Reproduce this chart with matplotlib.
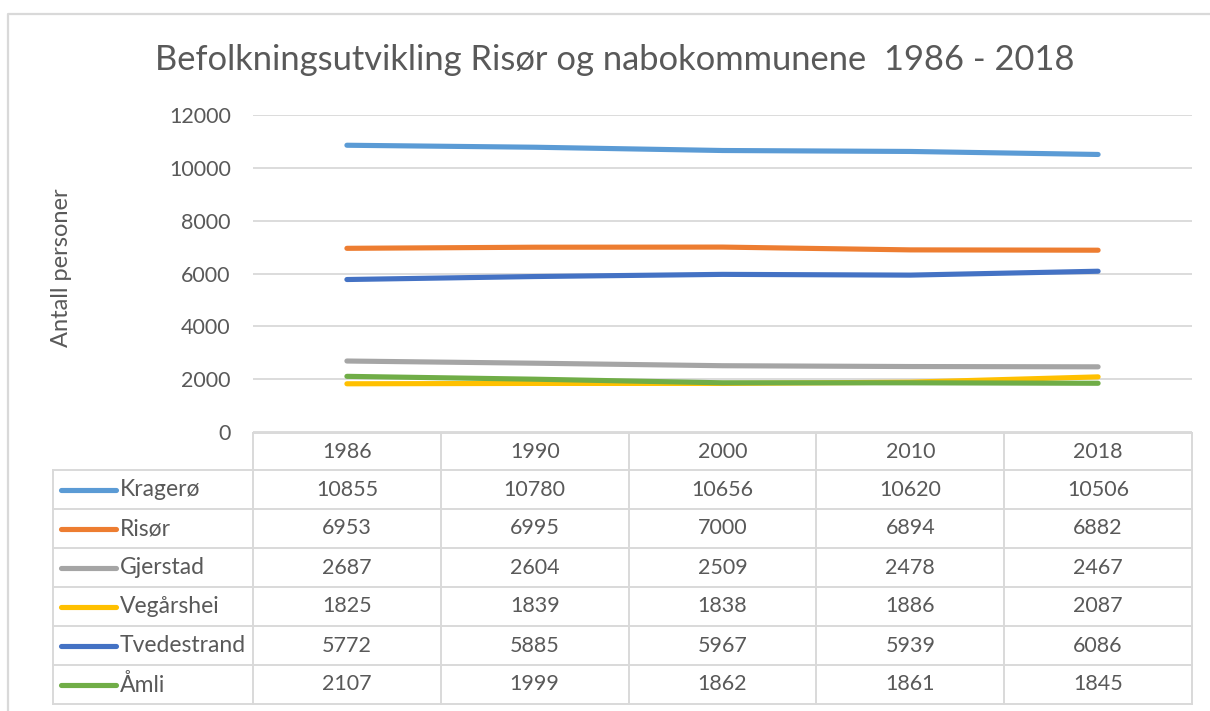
import matplotlib
matplotlib.use("Agg")
import matplotlib.pyplot as plt
from matplotlib.lines import Line2D

plt.rcParams['font.family'] = ['Lato', 'DejaVu Sans']

years = ["1986", "1990", "2000", "2010", "2018"]
names = ["Kragerø", "Risør", "Gjerstad", "Vegårshei", "Tvedestrand", "Åmli"]
kragero = [10855, 10780, 10656, 10620, 10506]
risor = [6953, 6995, 7000, 6894, 6882]
gjerstad = [2687, 2604, 2509, 2478, 2467]
vegarshei = [1825, 1839, 1838, 1886, 2087]
tvedestrand = [5772, 5885, 5967, 5939, 6086]
amli = [2107, 1999, 1862, 1861, 1845]
series = [kragero, risor, gjerstad, vegarshei, tvedestrand, amli]
colors = ["#5B9BD5", "#ED7D31", "#A5A5A5", "#FFC000", "#4472C4", "#70AD47"]
yticks = [0, 2000, 4000, 6000, 8000, 10000, 12000]
title = "Befolkningsutvikling Risør og nabokommunene  1986 - 2018"
ylabel = "Antall personer"

W, H = 1210, 711
fig = plt.figure(figsize=(W / 100, H / 100), dpi=100)
txt = "#595959"
grid = "#D9D9D9"

# background overlay axes in pixel coordinates
bg = fig.add_axes([0, 0, 1, 1])
bg.set_xlim(0, W)
bg.set_ylim(H, 0)
bg.axis("off")

# outer chart border (extends beyond right/bottom)
bg.add_line(Line2D([8, 8, W + 5], [H + 5, 14, 14], color="#D9D9D9", lw=1.6))

# plot axes
x0, x1 = 253, 1192
ytop, ybot = 115, 432
ax = fig.add_axes([x0 / W, 1 - ybot / H, (x1 - x0) / W, (ybot - ytop) / H])
ax.set_xlim(-0.5, len(years) - 0.5)
ax.set_ylim(0, 12000)
ax.set_yticks(yticks)
ax.set_yticklabels([str(t) for t in yticks], color=txt, fontsize=15.5)
ax.tick_params(axis="y", length=0, pad=16)
ax.set_xticks([])
for s in ax.spines.values():
    s.set_visible(False)
ax.grid(axis="y", color=grid, lw=1.3)
ax.set_axisbelow(True)
ax.patch.set_alpha(0)
xs = list(range(len(years)))
for vals, c in zip(series, colors):
    ax.plot(xs, vals, color=c, lw=3.7, solid_capstyle="round", solid_joinstyle="round")

fig.text(615 / W, 1 - 60 / H, title, ha="center", va="center", fontsize=24.8, color=txt)
fig.text(62 / W, 1 - 268 / H, ylabel, ha="center", va="center", rotation=90, fontsize=17, color=txt)

# data table
tl = 53
rows = [433, 470, 509, 548, 587, 626, 665, 704]
colw = (x1 - x0) / len(years)
lw_t = 1.4
bg.add_line(Line2D([x0, x1], [rows[0], rows[0]], color=grid, lw=lw_t))
for r in rows[1:]:
    bg.add_line(Line2D([tl, x1], [r, r], color=grid, lw=lw_t))
bg.add_line(Line2D([tl, tl], [rows[1], rows[-1]], color=grid, lw=lw_t))
for i in range(len(years) + 1):
    xx = x0 + i * colw
    bg.add_line(Line2D([xx, xx], [rows[0], rows[-1]], color=grid, lw=lw_t))
for i, y in enumerate(years):
    bg.text(x0 + (i + 0.5) * colw, (rows[0] + rows[1]) / 2, y, ha="center", va="center",
            fontsize=15.5, color=txt)
for j, (n, vals, c) in enumerate(zip(names, series, colors)):
    yc = (rows[j + 1] + rows[j + 2]) / 2
    bg.add_line(Line2D([61, 116], [yc, yc], color=c, lw=3.7, solid_capstyle="round"))
    bg.text(120, yc, n, ha="left", va="center", fontsize=16.5, color=txt)
    for i, v in enumerate(vals):
        bg.text(x0 + (i + 0.5) * colw, yc, str(v), ha="center", va="center", fontsize=15.5, color=txt)

fig.savefig("out.png", dpi=100, facecolor="white")
